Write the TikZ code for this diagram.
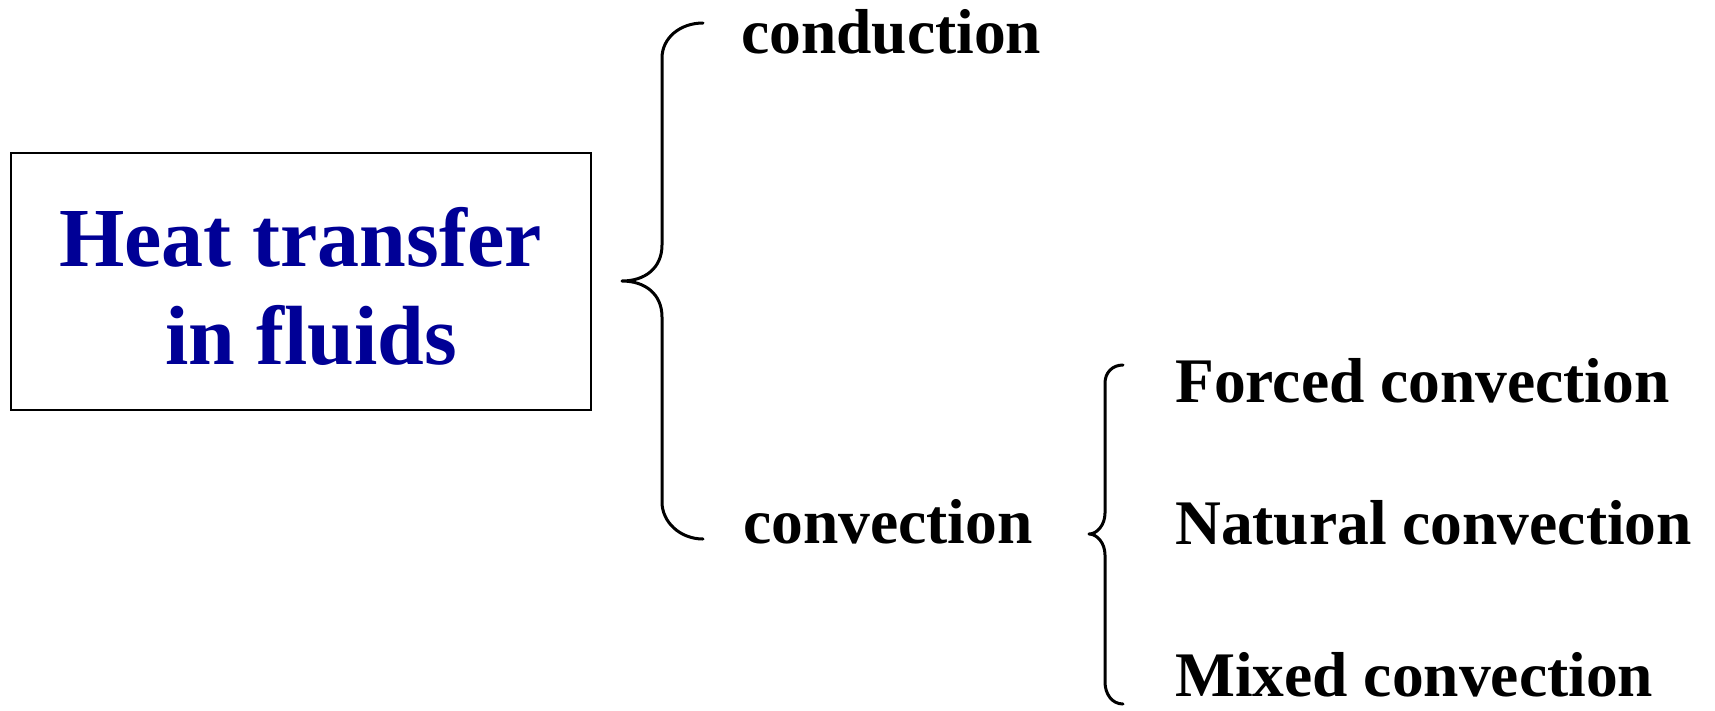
\documentclass[tikz,border=0pt]{standalone}
\usepackage{fontspec}
\setmainfont{Liberation Serif}
\definecolor{titleblue}{RGB}{0,0,150}
\begin{document}
\begin{tikzpicture}[x=1pt,y=-1pt,
  titlebox/.style={draw=black, line width=2.5pt, minimum width=580pt, minimum height=257pt, inner sep=0pt},
  titletext/.style={anchor=base, text=titleblue, font=\fontsize{84}{100}\selectfont\bfseries, inner sep=0pt},
  item/.style={anchor=base west, font=\fontsize{63.5}{75}\selectfont\bfseries, inner sep=0pt},
  brace/.style={line width=3pt, line cap=round, line join=round}]
\useasboundingbox (0,0) rectangle (1715,710);
\fill[white] (0,0) rectangle (1715,710);

% framed title
\node[titlebox] (box) at (301,281.5) {};
\node[titletext] (title1) at (300.5,266) {Heat transfer};
\node[titletext] (title2) at (311,364) {in fluids};

% first level
\node[item] (cond) at (741,53) {conduction};
\node[item] (conv) at (743,543) {convection};

% second level
\node[item] (forced) at (1175,402) {Forced convection};
\node[item] (natural) at (1175,544) {Natural convection};
\node[item] (mixed) at (1175,696) {Mixed convection};

% large brace
\draw[brace] (703,23) .. controls (680,23) and (662,38) .. (662,58)
  -- (662,245) .. controls (662,268) and (645,281) .. (622,281)
  .. controls (645,281) and (662,294) .. (662,317)
  -- (662,502) .. controls (662,522) and (680,539) .. (703,539);

% small brace
\draw[brace] (1123,365) .. controls (1112,365) and (1105,373) .. (1105,383)
  -- (1105,513) .. controls (1105,525) and (1097,534) .. (1089,534)
  .. controls (1097,534) and (1105,543) .. (1105,555)
  -- (1105,682) .. controls (1105,694) and (1112,704) .. (1123,704);
\end{tikzpicture}
\end{document}
